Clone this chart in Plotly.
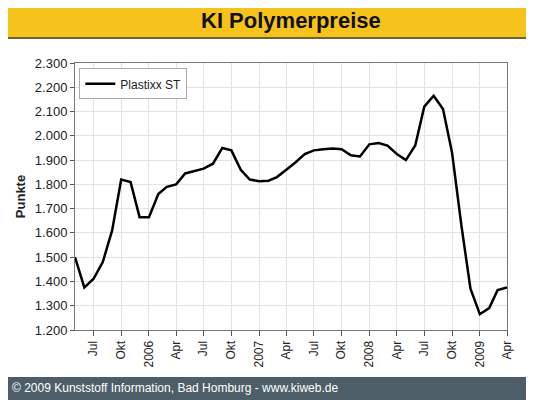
import pandas as pd
import plotly.graph_objects as go

# data
months = pd.date_range("2005-05-01", "2009-04-01", freq="MS")
plastixx_st = [1500, 1375, 1410, 1480, 1610, 1820, 1810, 1665, 1665, 1760, 1790, 1800,
               1845, 1855, 1865, 1885, 1950, 1940, 1860, 1820, 1813, 1815, 1830, 1860,
               1890, 1925, 1940, 1945, 1948, 1945, 1920, 1915, 1965, 1970, 1960, 1925,
               1900, 1960, 2120, 2165, 2110, 1930, 1630, 1370, 1265, 1290, 1365, 1375]
tick_dates = pd.date_range("2005-07-01", "2009-04-01", freq="QS-JAN")
tick_text = [str(d.year) if d.month == 1 else {4: "Apr", 7: "Jul", 10: "Okt"}[d.month]
             for d in tick_dates]

fig = go.Figure()
fig.add_trace(go.Scatter(x=months, y=plastixx_st, mode="lines", name="Plastixx ST",
                         line=dict(color="black", width=2.5)))

# page has an 8px body margin, so the figure is a bit smaller than the window
fig.update_layout(
    width=526, height=392,
    margin=dict(l=67, r=27, t=55, b=70),
    paper_bgcolor="white", plot_bgcolor="white",
    font=dict(family="Liberation Sans, Arial", size=13, color="#222"),
    separators=",.",
    showlegend=True,
    legend=dict(x=0.01, y=0.98, xanchor="left", yanchor="top", bgcolor="white",
                bordercolor="#aaa", borderwidth=1, font=dict(size=12)),
    xaxis=dict(range=[months[0], months[-1]], tickvals=tick_dates, ticktext=tick_text,
               tickangle=-90, showgrid=True, gridcolor="#e3e3e3", ticks="outside",
               ticklen=5, tickcolor="#555", showline=True, linecolor="#777", mirror=True,
               tickfont=dict(size=12)),
    yaxis=dict(range=[1200, 2300], dtick=100, tickformat=",d", showgrid=True,
               gridcolor="#e3e3e3", ticks="outside", ticklen=4, tickcolor="#555",
               showline=True, linecolor="#777", mirror=True, tickfont=dict(size=13),
               title=dict(text="<b>Punkte</b>", font=dict(size=13), standoff=6)),
    shapes=[
        dict(type="rect", xref="paper", yref="paper", x0=-0.2, x1=1.1, y0=1.094, y1=1.25,
             fillcolor="#f6c21c", line=dict(width=0), layer="below"),
        dict(type="line", xref="paper", yref="paper", x0=-0.2, x1=1.1, y0=1.094, y1=1.094,
             line=dict(color="#6b6630", width=2)),
        dict(type="rect", xref="paper", yref="paper", x0=-0.2, x1=1.1, y0=-0.3, y1=-0.176,
             fillcolor="#4d5e68", line=dict(width=0), layer="below"),
    ],
    annotations=[
        dict(text="<b>KI Polymerpreise</b>", xref="paper", yref="paper", x=0.5, y=1.16,
             xanchor="center", yanchor="middle", showarrow=False,
             font=dict(size=22, color="#111")),
        dict(text="© 2009 Kunststoff Information, Bad Homburg - www.kiweb.de", xref="paper",
             yref="paper", x=-0.15, y=-0.217, xanchor="left", yanchor="middle",
             showarrow=False, font=dict(size=12, color="white")),
    ],
)

fig.write_html("out.html")
